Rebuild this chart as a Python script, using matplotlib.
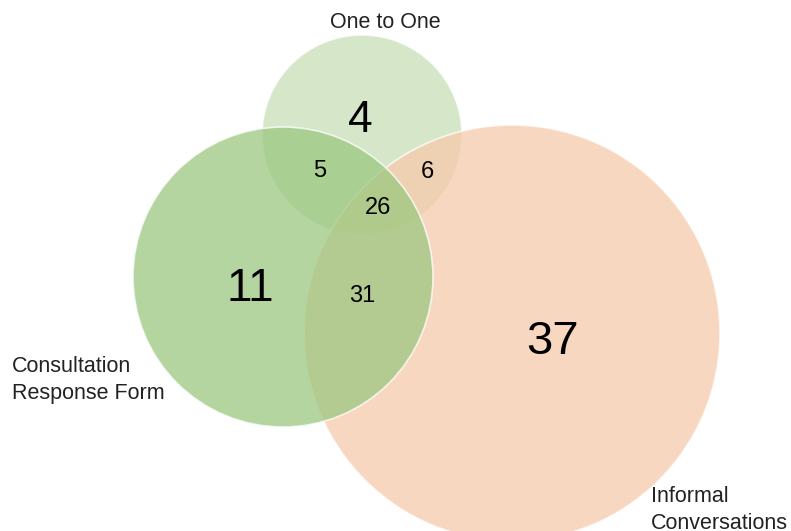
import matplotlib
matplotlib.use("Agg")
import matplotlib.pyplot as plt
from matplotlib.patches import Circle

plt.rcParams['font.family'] = ['Liberation Sans', 'DejaVu Sans']

# 数据
set_names = ["One to One", "Consultation\nResponse Form", "Informal\nConversations"]
set_colors = ["#c7e0b6", "#9cc880", "#f6caab"]
region_names = ["One only", "Form only", "Informal only",
                "One & Form", "One & Informal", "All three", "Form & Informal"]
region_counts = [4, 11, 37, 5, 6, 26, 31]

# 布局(像素坐标)
centers = [(362, 135), (283, 277), (512, 333)]
radii = [100, 150, 208]
label_pos = [(385, 22, "center"), (12, 380, "left"), (651, 510, "left")]
count_pos = [(360, 120), (250, 289), (553, 342),
             (320, 171), (427, 172), (378, 208), (362, 296)]
count_size = [32, 33, 34, 17, 17, 17, 17]

fig = plt.figure(figsize=(7.91, 5.31), dpi=100)
ax = fig.add_axes([0, 0, 1, 1])
ax.set_xlim(0, 791)
ax.set_ylim(531, 0)
ax.set_aspect("equal")
ax.axis("off")

#画圆: 先画One to One, 再画Informal, 最后Form
order = [0, 2, 1]
for i in order:
    ax.add_patch(Circle(centers[i], radii[i], facecolor=set_colors[i], alpha=0.75,
                        edgecolor="white", linewidth=1.2))

#集合标签
for name, (x, y, ha) in zip(set_names, label_pos):
    ax.text(x, y, name, ha=ha, va="center", fontsize=15.5, color="#222222", linespacing=1.4)

#区域数字
for n, (x, y), s in zip(region_counts, count_pos, count_size):
    ax.text(x, y, str(n), ha="center", va="center", fontsize=s, color="black")

fig.savefig("out.png", dpi=100)
